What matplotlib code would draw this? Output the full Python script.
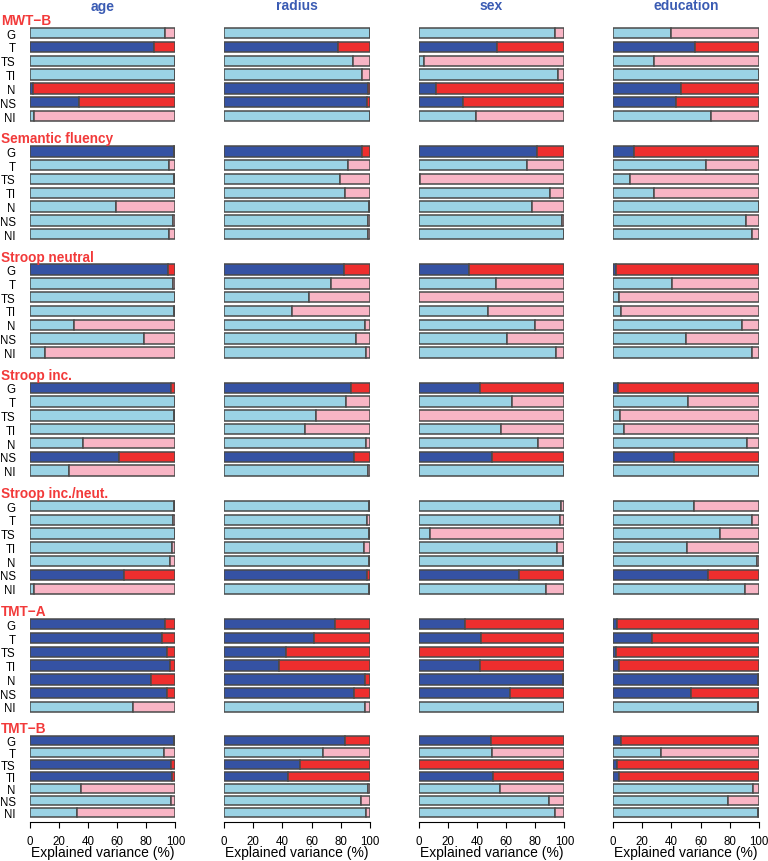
import numpy as np
import matplotlib
matplotlib.use('Agg')
import matplotlib.pyplot as plt

plt.rcParams['font.family'] = ['Liberation Sans', 'DejaVu Sans']

# column covariates, tests (groups) and model rows
covariates = ['age', 'radius', 'sex', 'education']
tests = ['MWT\u2212B', 'Semantic fluency', 'Stroop neutral', 'Stroop inc.',
         'Stroop inc./neut.', 'TMT\u2212A', 'TMT\u2212B']
rows = ['G', 'T', 'TS', 'TI', 'N', 'NS', 'NI']

# explained variance (%) per test (rows of list) and model row
age = [
    [93, 85, 99.5, 99.9, 2, 34, 3],
    [99.3, 95.4, 99, 99.9, 59.3, 98.6, 95.9],
    [95.2, 98.6, 99.5, 99, 30.4, 78.7, 10.8],
    [97, 99.8, 99.3, 99.6, 36.4, 61.1, 27],
    [98.9, 98.4, 99.6, 97.9, 96.6, 65, 2.7],
    [93.1, 91.1, 94, 96.6, 83.1, 94, 70.9],
    [99.3, 92.4, 97.3, 97.7, 35, 96.8, 32.5],
]
radius = [
    [99.8, 78, 88.5, 94.5, 98.6, 97.9, 99.9],
    [94.7, 85.3, 79.8, 83, 99.5, 98.4, 98.9],
    [82.3, 73.6, 58.5, 46.6, 96.6, 90.8, 97.2],
    [86.7, 83.3, 63.3, 55.7, 97.2, 89.4, 98.6],
    [99.6, 97.7, 99.5, 96.1, 99.7, 97.7, 99.7],
    [75.9, 61.5, 42.2, 37.6, 96.6, 89, 96.6],
    [82.6, 67.7, 51.8, 43.8, 98.6, 93.8, 97.2],
]
sex = [
    [93.3, 53.7, 3.4, 95.4, 12.2, 30.7, 39],
    [81, 74.1, 1, 89.9, 77.5, 98.6, 99.5],
    [34.4, 53, 0.3, 47.5, 79.6, 60.8, 94],
    [42.2, 63.8, 0.3, 56.4, 81.7, 50.5, 99.8],
    [97.5, 97.2, 7.8, 95.2, 99.3, 69, 87.2],
    [31.7, 42.9, 0.3, 42.2, 99.3, 62.4, 99.5],
    [49.5, 50, 0.3, 50.9, 55.5, 89.2, 93.3],
]
education = [
    [39.7, 55.9, 28.3, 99.9, 46.8, 42.9, 67.4],
    [14.4, 63.5, 11.2, 28.3, 99.8, 91.1, 95.2],
    [2, 40.2, 3.9, 5.5, 88.6, 49.8, 95.4],
    [3.4, 51.6, 4.6, 7.5, 91.8, 42, 99.8],
    [55.7, 95, 73.5, 50.5, 98.6, 65.3, 90.6],
    [2.5, 26.5, 1.8, 3.7, 99.3, 53.7, 99.3],
    [5.5, 32.6, 2.3, 4.3, 95.9, 79, 99.3],
]
# 1 = significant model (dark colours), same for every covariate
significant = [
    [0, 1, 0, 0, 1, 1, 0],
    [1, 0, 0, 0, 0, 0, 0],
    [1, 0, 0, 0, 0, 0, 0],
    [1, 0, 0, 0, 0, 1, 0],
    [0, 0, 0, 0, 0, 1, 0],
    [1, 1, 1, 1, 1, 1, 0],
    [1, 0, 1, 1, 0, 0, 0],
]
values = [age, radius, sex, education]

dark_blue, light_blue = '#3552a3', '#9bd3e5'
dark_red, light_red = '#ee2e2e', '#f8b5c5'
edge = '#4a4a4a'
title_red = '#f23a3a'
title_blue = '#3a5bb3'

W, H = 768, 862
fig = plt.figure(figsize=(W / 100, H / 100), dpi=100)


def px_axes(x0, top, w, h):
    return fig.add_axes([x0 / W, 1 - (top + h) / H, w / W, h / H])


col_x0 = [29.7 + c * 194.5 for c in range(4)]
col_w = 145.7

for k, test in enumerate(tests):
    if k < 6:
        pitch = 13.8
        gc = 34.2 + k * 118.2
    else:
        pitch = 12.07
        gc = 741.3
    top = gc - pitch / 2
    h = pitch * 7
    fig.text(1 / W, 1 - (top - 2) / H, test, color=title_red,
             fontsize=9.8, fontweight='bold', ha='left', va='baseline')
    for c, cov in enumerate(covariates):
        ax = px_axes(col_x0[c], top, col_w, h)
        v = np.array(values[c][k])
        sig = np.array(significant[k]).astype(bool)
        y = np.arange(len(rows))
        left_col = np.where(sig, dark_blue, light_blue)
        right_col = np.where(sig, dark_red, light_red)
        ax.barh(y, v, height=0.75, color=left_col, edgecolor=edge, linewidth=1.1)
        ax.barh(y, 100 - v, left=v, height=0.75, color=right_col,
                edgecolor=edge, linewidth=1.1)
        ax.set_xlim(0, 100)
        ax.set_ylim(6.5, -0.5)
        for s in ['top', 'right', 'left']:
            ax.spines[s].set_visible(False)
        if c == 0:
            ax.set_yticks(y)
            ax.set_yticklabels(rows, fontsize=8.3)
            ax.tick_params(axis='y', length=0, pad=10)
            for lab in ax.get_yticklabels():
                lab.set_ha('right')
        else:
            ax.set_yticks([])
        if k == 6:
            ax.spines['bottom'].set_position(('outward', 2.5))
            ax.spines['bottom'].set_linewidth(0.8)
            ax.set_xticks(np.arange(0, 101, 20))
            ax.tick_params(axis='x', length=4, width=0.8, labelsize=8.3, pad=5)
            fig.text((col_x0[c] + col_w / 2) / W, 1 - 857.5 / H,
                     'Explained variance (%)', fontsize=10,
                     ha='center', va='baseline')
        else:
            ax.spines['bottom'].set_visible(False)
            ax.set_xticks([])
        if k == 0:
            fig.text((col_x0[c] + col_w / 2) / W, 1 - 10.5 / H, cov,
                     color=title_blue, fontsize=10, fontweight='bold',
                     ha='center', va='baseline')

fig.savefig('out.png', dpi=100)
